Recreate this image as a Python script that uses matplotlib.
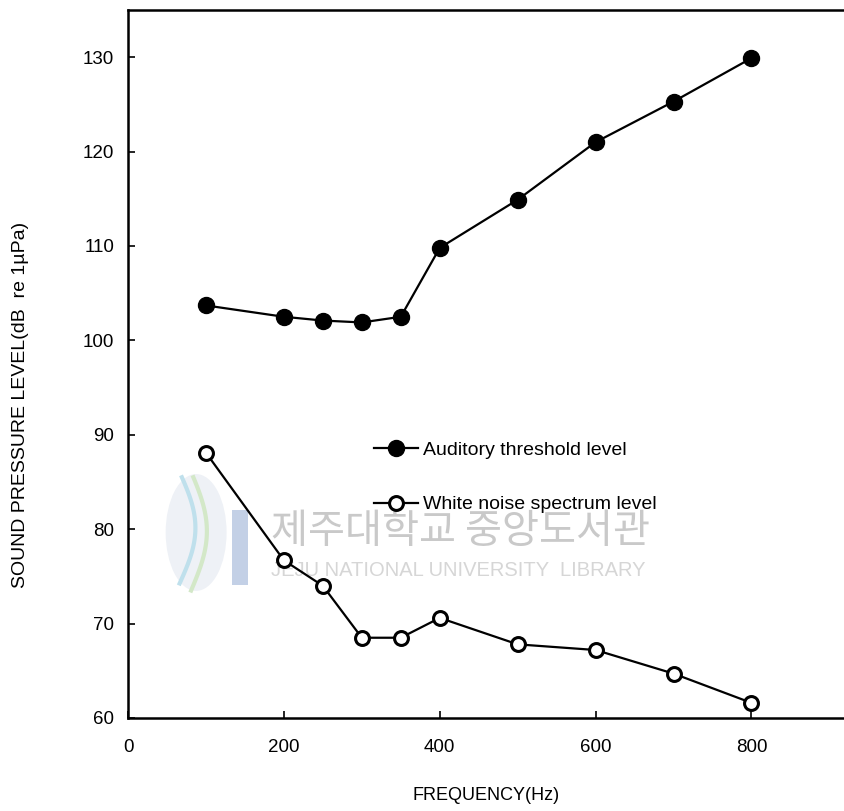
import numpy as np
import matplotlib.pyplot as plt
from matplotlib.patches import Rectangle, Ellipse

plt.rcParams['font.family'] = ['Liberation Sans', 'DejaVu Sans']

freq = [100, 200, 250, 300, 350, 400, 500, 600, 700, 800]
threshold = [103.7, 102.5, 102.1, 101.9, 102.5, 109.8, 114.9, 121.0, 125.3, 129.9]
white_noise = [88.1, 76.7, 74.0, 68.5, 68.5, 70.6, 67.8, 67.2, 64.7, 61.6]

x_ticks = [0, 200, 400, 600, 800]
y_ticks = [60, 70, 80, 90, 100, 110, 120, 130]

fig = plt.figure(figsize=(8.45, 8.11), dpi=100)
ax = fig.add_axes([0.1515, 0.1147, 0.8485, 0.873])

# library watermark in the background (logo + name)
ax.add_patch(Ellipse((0.095, 0.262), 0.085, 0.165, transform=ax.transAxes,
                     color='#eef1f6', zorder=0, lw=0))
t = np.linspace(0, 1, 50)
ax.plot(0.072 + 0.022 * np.sin(t * 3.0), 0.19 + 0.15 * t, transform=ax.transAxes,
        color='#bfe0ec', lw=3, zorder=0)
ax.plot(0.088 + 0.022 * np.sin(t * 3.0), 0.18 + 0.16 * t, transform=ax.transAxes,
        color='#d3e8c8', lw=3, zorder=0)
ax.add_patch(Rectangle((0.145, 0.188), 0.022, 0.106, transform=ax.transAxes,
                       color='#c3d0e6', zorder=0, lw=0))
ax.text(0.200, 0.264, '제주대학교 중앙도서관', transform=ax.transAxes,
        family=['Noto Sans CJK KR', 'DejaVu Sans'], fontsize=29,
        color='#c9c9c9', va='center', ha='left', zorder=0)
ax.text(0.200, 0.209, 'JEJU NATIONAL UNIVERSITY  LIBRARY', transform=ax.transAxes,
        fontsize=14.5, color='#d6d6d6', va='center', ha='left', zorder=0)

ax.plot(freq, threshold, color='black', lw=1.6, marker='o', markersize=11.5,
        markerfacecolor='black', markeredgecolor='black',
        label='Auditory threshold level', zorder=3)
ax.plot(freq, white_noise, color='black', lw=1.6, marker='o', markersize=10,
        markerfacecolor='white', markeredgecolor='black', markeredgewidth=2.2,
        label='White noise spectrum level', zorder=3)

ax.set_xlim(0, 920)
ax.set_ylim(60, 135)
ax.set_xticks(x_ticks)
ax.set_yticks(y_ticks)
ax.tick_params(direction='in', length=5, width=1.2, labelsize=13.5)
ax.tick_params(axis='x', pad=15)
ax.tick_params(axis='y', pad=10)

for side in ['left', 'bottom', 'top']:
    ax.spines[side].set_linewidth(1.8)
ax.spines['right'].set_visible(False)

ax.set_xlabel('FREQUENCY(Hz)', fontsize=13)
ax.xaxis.set_label_coords(0.5, -0.098)
ax.set_ylabel('SOUND PRESSURE LEVEL(dB  re 1µPa)', fontsize=14)
ax.yaxis.set_label_coords(-0.138, 0.442)

ax.legend(loc='center left', bbox_to_anchor=(0.318, 0.340), frameon=False,
          fontsize=14, handlelength=2.3, handletextpad=0.25, labelspacing=1.9,
          markerscale=1.0)

fig.savefig('out.png', dpi=100)
